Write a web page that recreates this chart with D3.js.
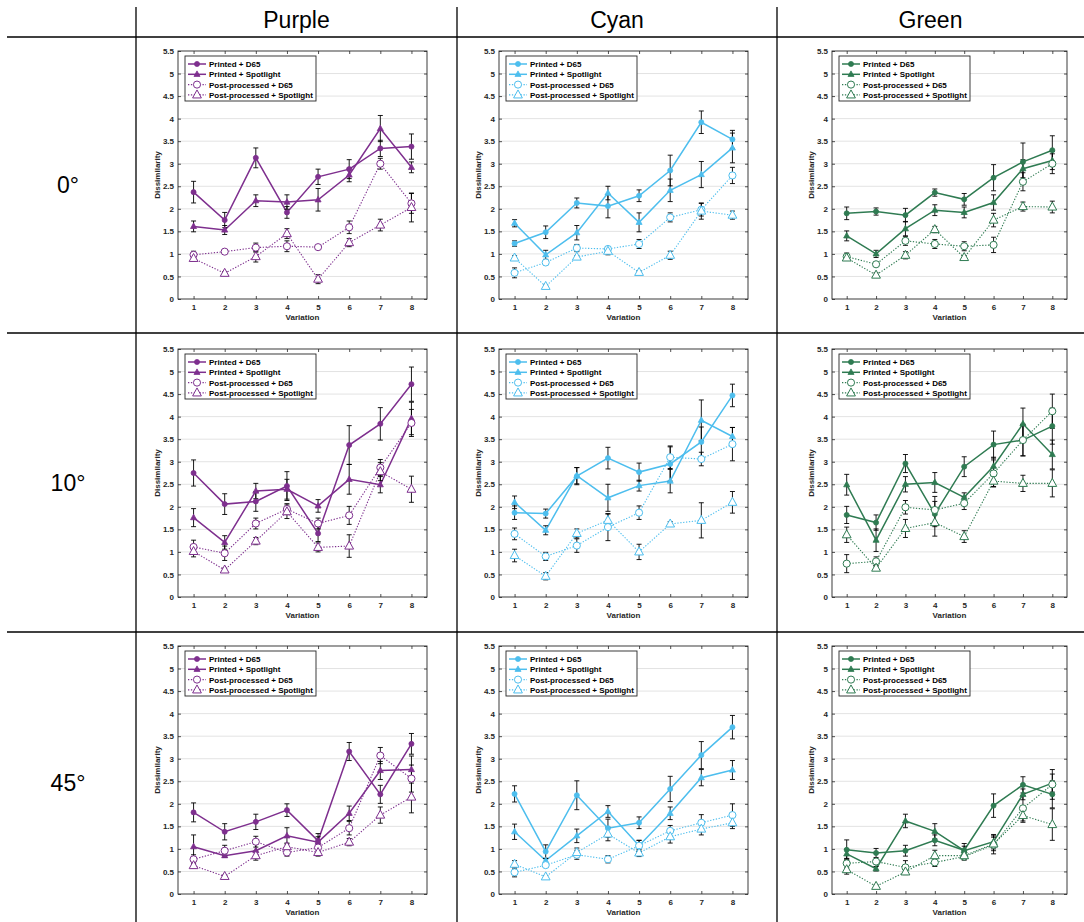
<!DOCTYPE html>
<html>
<head>
<meta charset="utf-8">
<script src="https://cdn.jsdelivr.net/npm/d3@7"></script>
<style>
body { margin: 0; background: #fff; }
text { font-family: "Liberation Sans", Arial, Helvetica, sans-serif; }
</style>
</head>
<body>
<svg id="chart" width="1084" height="922"></svg>
<script>
// categories and labels
var variations = [1, 2, 3, 4, 5, 6, 7, 8]
var seriesNames = ["Printed + D65", "Printed + Spotlight", "Post-processed + D65", "Post-processed + Spotlight"]
var columnNames = ["Purple", "Cyan", "Green"]
var rowNames = ["0°", "10°", "45°"]
var yTicks = [0, 0.5, 1, 1.5, 2, 2.5, 3, 3.5, 4, 4.5, 5, 5.5]
var yTickLabels = ["0", "0.5", "1", "1.5", "2", "2.5", "3", "3.5", "4", "4.5", "5", "5.5"]

// means, one row per series (same order as seriesNames)
var purple0 = [[2.37,1.75,3.13,1.92,2.71,2.88,3.34,3.38],[1.61,1.53,2.18,2.15,2.20,2.75,3.78,2.92],[0.98,1.05,1.14,1.17,1.15,1.59,3.00,2.12],[0.90,0.57,0.94,1.45,0.44,1.25,1.64,2.03]]
var purple0Err = [[0.24,0.17,0.22,0.13,0.17,0.21,0.18,0.28],[0.12,0.10,0.13,0.16,0.25,0.15,0.29,0.12],[0.08,0.03,0.10,0.12,0.03,0.14,0.12,0.22],[0.06,0.04,0.12,0.11,0.10,0.09,0.13,0.32]]
var cyan0 = [[1.23,1.48,2.13,2.06,2.29,2.85,3.92,3.54],[1.68,0.98,1.47,2.35,1.70,2.41,2.76,3.35],[0.58,0.81,1.13,1.11,1.22,1.81,1.98,2.74],[0.91,0.28,0.93,1.06,0.59,0.97,1.95,1.86]]
var cyan0Err = [[0.06,0.14,0.11,0.26,0.13,0.34,0.25,0.20],[0.08,0.10,0.16,0.15,0.21,0.25,0.29,0.33],[0.11,0.05,0.08,0.05,0.10,0.10,0.14,0.18],[0.05,0.03,0.03,0.08,0.03,0.09,0.18,0.09]]
var green0 = [[1.90,1.94,1.86,2.36,2.21,2.69,3.04,3.30],[1.40,1.00,1.56,1.97,1.92,2.14,2.89,3.07],[0.94,0.77,1.29,1.22,1.17,1.20,2.60,3.00],[0.91,0.53,0.97,1.54,0.92,1.75,2.05,2.04]]
var green0Err = [[0.14,0.08,0.15,0.08,0.13,0.29,0.42,0.32],[0.11,0.08,0.16,0.12,0.12,0.17,0.20,0.20],[0.08,0.05,0.10,0.10,0.10,0.17,0.20,0.22],[0.05,0.05,0.08,0.07,0.04,0.15,0.10,0.13]]

var purple10 = [[2.75,2.06,2.12,2.46,1.41,3.37,3.84,4.72],[1.76,1.21,2.35,2.39,2.02,2.61,2.49,3.96],[1.11,0.97,1.63,1.95,1.63,1.81,2.87,3.86],[1.01,0.60,1.24,1.89,1.10,1.13,2.78,2.39]]
var purple10Err = [[0.29,0.23,0.22,0.32,0.18,0.43,0.36,0.38],[0.20,0.15,0.17,0.22,0.14,0.33,0.18,0.36],[0.15,0.16,0.12,0.12,0.12,0.20,0.18,0.30],[0.12,0.04,0.08,0.15,0.10,0.25,0.20,0.29]]
var cyan10 = [[1.87,1.85,2.68,3.08,2.77,2.95,3.44,4.47],[2.10,1.48,2.69,2.20,2.47,2.57,3.92,3.56],[1.40,0.90,1.14,1.55,1.87,3.10,3.06,3.39],[0.92,0.46,1.41,1.70,1.00,1.62,1.70,2.10]]
var cyan10Err = [[0.15,0.10,0.19,0.24,0.20,0.38,0.33,0.25],[0.14,0.10,0.18,0.30,0.12,0.26,0.45,0.20],[0.13,0.09,0.15,0.30,0.15,0.25,0.15,0.37],[0.14,0.08,0.10,0.14,0.17,0.05,0.39,0.24]]
var green10 = [[1.82,1.65,2.96,1.84,2.89,3.38,3.48,3.79],[2.49,1.26,2.50,2.54,2.21,2.90,3.84,3.16],[0.74,0.79,1.99,1.93,2.08,2.74,3.48,4.12],[1.38,0.64,1.52,1.65,1.34,2.57,2.52,2.52]]
var green10Err = [[0.19,0.17,0.20,0.28,0.22,0.30,0.35,0.40],[0.23,0.25,0.17,0.22,0.10,0.20,0.35,0.32],[0.20,0.10,0.15,0.30,0.14,0.30,0.35,0.38],[0.17,0.05,0.20,0.30,0.13,0.12,0.18,0.30]]

var purple45 = [[1.81,1.38,1.60,1.86,1.18,3.16,2.21,3.33],[1.05,0.85,0.96,1.29,1.15,1.79,2.74,2.76],[0.77,0.96,1.16,0.92,1.03,1.46,3.07,2.56],[0.63,0.39,0.85,1.05,0.92,1.15,1.75,2.15]]
var purple45Err = [[0.21,0.18,0.17,0.14,0.16,0.20,0.20,0.23],[0.26,0.04,0.14,0.18,0.12,0.16,0.20,0.30],[0.10,0.12,0.12,0.08,0.10,0.15,0.18,0.30],[0.06,0.03,0.10,0.08,0.08,0.08,0.18,0.35]]
var cyan45 = [[2.22,0.94,2.19,1.46,1.58,2.33,3.08,3.70],[1.38,0.74,1.29,1.83,1.07,1.79,2.58,2.75],[0.48,0.64,0.87,0.77,1.07,1.40,1.58,1.75],[0.66,0.38,0.92,1.33,0.91,1.27,1.44,1.58]]
var cyan45Err = [[0.18,0.15,0.32,0.20,0.13,0.28,0.30,0.26],[0.17,0.05,0.15,0.13,0.12,0.14,0.18,0.21],[0.10,0.04,0.10,0.08,0.12,0.12,0.18,0.25],[0.08,0.03,0.10,0.15,0.08,0.14,0.13,0.13]]
var green45 = [[0.98,0.91,0.96,1.19,0.97,1.96,2.42,2.21],[0.89,0.56,1.62,1.39,0.96,1.16,2.21,2.46],[0.68,0.72,0.59,0.70,0.83,1.09,1.90,2.43],[0.54,0.17,0.49,0.85,0.85,1.11,1.74,1.54]]
var green45Err = [[0.22,0.10,0.12,0.12,0.15,0.26,0.18,0.30],[0.10,0.05,0.15,0.17,0.10,0.16,0.12,0.20],[0.10,0.05,0.15,0.09,0.08,0.20,0.28,0.33],[0.10,0.03,0.06,0.12,0.08,0.15,0.15,0.35]]

var panels = [
  [[purple0, purple0Err], [cyan0, cyan0Err], [green0, green0Err]],
  [[purple10, purple10Err], [cyan10, cyan10Err], [green10, green10Err]],
  [[purple45, purple45Err], [cyan45, cyan45Err], [green45, green45Err]]
]

var colors = ["#7e2f8e", "#4dbeee", "#2f7b52"]
var colLeft = [178, 499, 832]
var colWidth = [249, 249, 235]
var rowTop = [51, 349, 646]
var plotH = 248
var axisCol = "#262626"

var svg = d3.select("#chart")

// table rules
var rule = svg.append("g").attr("stroke", "#000").attr("stroke-width", 1.3)
rule.selectAll("line.h").data([37, 333, 632]).enter().append("line")
  .attr("x1", 7).attr("x2", 1084).attr("y1", function(d){return d}).attr("y2", function(d){return d})
rule.selectAll("line.v").data([136, 457, 777]).enter().append("line")
  .attr("x1", function(d){return d}).attr("x2", function(d){return d}).attr("y1", 7).attr("y2", 922)

var colCenters = [296.5, 617, 930.5]
svg.selectAll("text.colhead").data(columnNames).enter().append("text")
  .attr("x", function(d, i){return colCenters[i]}).attr("y", 28)
  .attr("text-anchor", "middle").attr("font-size", 23).text(function(d){return d})
var rowCenters = [185, 483, 783]
svg.selectAll("text.rowhead").data(rowNames).enter().append("text")
  .attr("x", 68).attr("y", function(d, i){return rowCenters[i] + 8})
  .attr("text-anchor", "middle").attr("font-size", 23).text(function(d){return d})

function triPath(s) {
  return "M0," + (-s * 0.62) + "L" + (s * 0.55) + "," + (s * 0.38) + "L" + (-s * 0.55) + "," + (s * 0.38) + "Z"
}

function drawPanel(ri, ci) {
  var means = panels[ri][ci][0]
  var errs = panels[ri][ci][1]
  var color = colors[ci]
  var w = colWidth[ci]
  var g = svg.append("g").attr("transform", "translate(" + colLeft[ci] + "," + rowTop[ri] + ")")

  var x = d3.scaleLinear().domain([0.5, 8.5]).range([0, w])
  var y = d3.scaleLinear().domain([0, 5.5]).range([plotH, 0])

  g.append("rect").attr("width", w).attr("height", plotH).attr("fill", "#fff")

  // grid
  g.selectAll("line.grid").data(yTicks.slice(1, -1)).enter().append("line")
    .attr("x1", 0).attr("x2", w)
    .attr("y1", function(d){return y(d)}).attr("y2", function(d){return y(d)})
    .attr("stroke", "#e3e3e3").attr("stroke-width", 1)

  var yAxis = d3.axisLeft(y).tickValues(yTicks).tickSize(-3).tickPadding(4)
    .tickFormat(function(d, i){return yTickLabels[i]})
  var yAxisR = d3.axisRight(y).tickValues(yTicks).tickSize(-3).tickFormat("")
  var xAxis = d3.axisBottom(x).tickValues(variations).tickSize(-3).tickPadding(5)
  var xAxisT = d3.axisTop(x).tickValues(variations).tickSize(-3).tickFormat("")

  var axes = [
    g.append("g").call(yAxis),
    g.append("g").attr("transform", "translate(" + w + ",0)").call(yAxisR),
    g.append("g").attr("transform", "translate(0," + plotH + ")").call(xAxis),
    g.append("g").call(xAxisT)
  ]
  axes.forEach(function(a) {
    a.select(".domain").remove()
    a.selectAll(".tick line").attr("stroke", axisCol).attr("stroke-width", 0.8)
    a.selectAll(".tick text").attr("fill", axisCol).attr("font-size", 8).attr("font-weight", "bold")
      .attr("font-family", "Liberation Sans, Arial, sans-serif")
  })

  g.append("rect").attr("width", w).attr("height", plotH)
    .attr("fill", "none").attr("stroke", axisCol).attr("stroke-width", 0.9)

  g.append("text").attr("x", w / 2).attr("y", plotH + 21).attr("text-anchor", "middle")
    .attr("font-size", 8).attr("font-weight", "bold").attr("fill", axisCol).text("Variation")
  g.append("text").attr("transform", "translate(-18," + (plotH / 2) + ") rotate(-90)")
    .attr("text-anchor", "middle").attr("font-size", 8).attr("font-weight", "bold")
    .attr("fill", axisCol).text("Dissimilarity")

  var line = d3.line().x(function(d, i){return x(variations[i])}).y(function(d){return y(d)})

  means.forEach(function(vals, si) {
    g.append("path").datum(vals).attr("d", line)
      .attr("fill", "none").attr("stroke", color)
      .attr("stroke-width", si < 2 ? 1.5 : 1.1)
      .attr("stroke-dasharray", si < 2 ? null : "1.3,1.6")
  })

  // error bars
  var eg = g.append("g").attr("stroke", "#000").attr("stroke-width", 0.9)
  means.forEach(function(vals, si) {
    vals.forEach(function(v, i) {
      var cx = x(variations[i]), e = errs[si][i]
      eg.append("line").attr("x1", cx).attr("x2", cx).attr("y1", y(v - e)).attr("y2", y(v + e))
      eg.append("line").attr("x1", cx - 2.5).attr("x2", cx + 2.5).attr("y1", y(v - e)).attr("y2", y(v - e))
      eg.append("line").attr("x1", cx - 2.5).attr("x2", cx + 2.5).attr("y1", y(v + e)).attr("y2", y(v + e))
    })
  })

  // markers
  means.forEach(function(vals, si) {
    var mg = g.append("g")
    mg.selectAll("path").data(vals).enter().append("path")
      .attr("transform", function(d, i){return "translate(" + x(variations[i]) + "," + y(d) + ")"})
      .attr("d", function() {
        if (si == 0) return d3.symbol().type(d3.symbolCircle).size(20)()
        if (si == 1) return triPath(5.5)
        if (si == 2) return d3.symbol().type(d3.symbolCircle).size(40)()
        return triPath(8)
      })
      .attr("fill", si < 2 ? color : "#fff")
      .attr("stroke", color).attr("stroke-width", si < 2 ? 0.8 : 1)
  })

  // legend
  var lg = g.append("g").attr("transform", "translate(7,5)")
  lg.append("rect").attr("width", 131).attr("height", 45)
    .attr("fill", "#fff").attr("stroke", axisCol).attr("stroke-width", 0.9)
  seriesNames.forEach(function(name, si) {
    var ly = 8 + si * 10.3
    lg.append("line").attr("x1", 3).attr("x2", 21).attr("y1", ly).attr("y2", ly)
      .attr("stroke", color).attr("stroke-width", si < 2 ? 1.5 : 1.1)
      .attr("stroke-dasharray", si < 2 ? null : "1.3,1.6")
    lg.append("path").attr("transform", "translate(12," + ly + ")")
      .attr("d", si == 0 ? d3.symbol().type(d3.symbolCircle).size(20)()
                : si == 1 ? triPath(5.5)
                : si == 2 ? d3.symbol().type(d3.symbolCircle).size(40)()
                : triPath(8))
      .attr("fill", si < 2 ? color : "#fff").attr("stroke", color).attr("stroke-width", si < 2 ? 0.8 : 1)
    lg.append("text").attr("x", 24).attr("y", ly + 3).attr("font-size", 8).attr("font-weight", "bold")
      .attr("fill", "#000").text(name)
  })
}

for (var r = 0; r < 3; r++) {
  for (var c = 0; c < 3; c++) {
    drawPanel(r, c)
  }
}
</script>
</body>
</html>
